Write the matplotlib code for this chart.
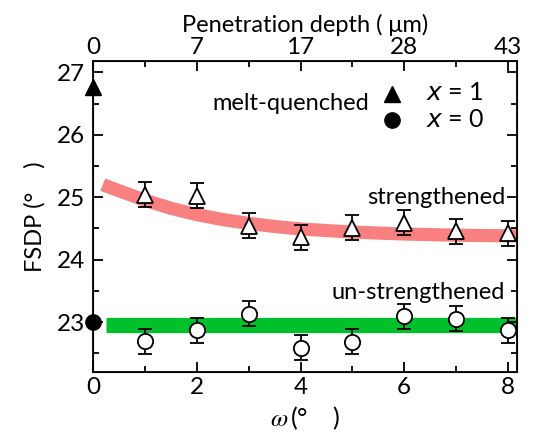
import matplotlib.pyplot as plt
from matplotlib.ticker import MultipleLocator

plt.rcParams['font.family'] = ['Lato', 'DejaVu Sans']

# =========================
# Datos
# =========================
omega = [1, 2, 3, 4, 5, 6, 7, 8]
fsdp_str = [25.04, 25.02, 24.54, 24.36, 24.51, 24.59, 24.45, 24.42]
fsdp_unstr = [22.69, 22.87, 23.13, 22.59, 22.68, 23.09, 23.05, 22.87]
err = 0.2

# banda del ajuste
fit_x = [0.18, 0.5, 1, 1.5, 2, 2.5, 3, 3.5, 4, 5, 6, 7, 8, 8.2]
fit_y = [25.20, 25.10, 24.95, 24.82, 24.72, 24.64, 24.58, 24.53, 24.49, 24.44, 24.41, 24.39, 24.38, 24.38]
flat_x = [0.24, 8.2]
flat_y = [22.95, 22.95]

# fundido
mq_x1, mq_y1 = 0, 26.76
mq_x0, mq_y0 = 0, 23.0

top_ticks = [0, 2, 4, 6, 8]
top_labels = ['0', '7', '17', '28', '43']

# =========================
# Figura
# =========================
fig = plt.figure(figsize=(5.34, 4.33), dpi=100)
ax = fig.add_axes([0.175, 0.141, 0.793, 0.718])

ax.plot(fit_x, fit_y, color='#F88080', lw=9.5, solid_capstyle='butt', zorder=1)
ax.plot(flat_x, flat_y, color='#00C12B', lw=11, solid_capstyle='butt', zorder=1)

ax.errorbar(omega, fsdp_str, yerr=err, fmt='^', ms=12, mfc='white', mec='black',
            mew=1.3, ecolor='black', elinewidth=1.3, capsize=4.7, capthick=1.3, zorder=3)
ax.errorbar(omega, fsdp_unstr, yerr=err, fmt='o', ms=11, mfc='white', mec='black',
            mew=1.3, ecolor='black', elinewidth=1.3, capsize=4.7, capthick=1.3, zorder=3)

ax.plot(mq_x1, mq_y1, '^', ms=12, color='black', clip_on=False, zorder=4)
ax.plot(mq_x0, mq_y0, 'o', ms=11, color='black', clip_on=False, zorder=4)

# leyenda manual
ax.plot(0.705, 0.895, '^', ms=11, color='black', transform=ax.transAxes, clip_on=False)
ax.plot(0.705, 0.81, 'o', ms=11, color='black', transform=ax.transAxes, clip_on=False)
ax.text(0.785, 0.898, '$x$ = 1', transform=ax.transAxes, fontsize=18, va='center',
        math_fontfamily='dejavusans')
ax.text(0.785, 0.812, '$x$ = 0', transform=ax.transAxes, fontsize=18, va='center',
        math_fontfamily='dejavusans')
ax.text(0.65, 0.862, 'melt-quenched', transform=ax.transAxes, fontsize=17, ha='right', va='center')

ax.text(7.95, 25.0, 'strengthened', fontsize=17, ha='right', va='center')
ax.text(7.95, 23.48, 'un-strengthened', fontsize=17, ha='right', va='center')

# =========================
# Ejes
# =========================
ax.set_xlim(0, 8.18)
ax.set_ylim(22.2, 27.18)
ax.xaxis.set_major_locator(MultipleLocator(2))
ax.xaxis.set_minor_locator(MultipleLocator(1))
ax.yaxis.set_major_locator(MultipleLocator(1))
ax.yaxis.set_minor_locator(MultipleLocator(0.5))
ax.tick_params(which='both', direction='in', right=True, width=1.3, labelsize=17.5)
ax.tick_params(which='major', length=7)
ax.tick_params(which='minor', length=4)
ax.tick_params(axis='y', pad=6)
for s in ax.spines.values():
    s.set_linewidth(1.3)

ax.set_xlabel(r'$\omega\,$(°    )', fontsize=18, labelpad=5, math_fontfamily='stix')
ax.set_ylabel('FSDP (°    )', fontsize=17, labelpad=8)

ax2 = ax.twiny()
ax2.set_xlim(ax.get_xlim())
ax2.set_xticks(top_ticks)
ax2.set_xticklabels(top_labels)
ax2.xaxis.set_minor_locator(MultipleLocator(1))
ax2.tick_params(which='both', direction='in', width=1.3, labelsize=17.5)
ax2.tick_params(which='major', length=7, pad=2)
ax2.tick_params(which='minor', length=4)
ax2.set_xlabel('Penetration depth ( μm)', fontsize=17, labelpad=4)

fig.savefig('out.png', dpi=100)
